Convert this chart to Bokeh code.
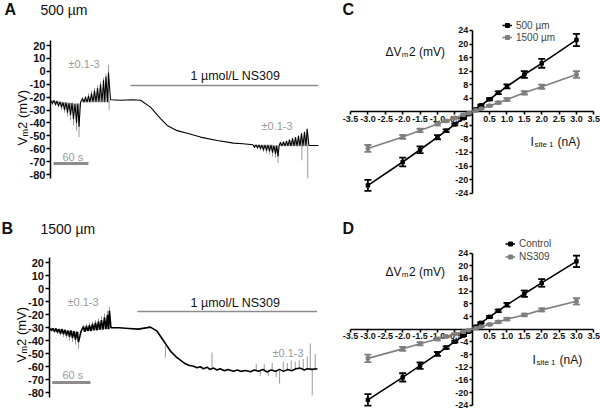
import math
from bokeh.plotting import figure
from bokeh.models import (Range1d, LinearAxis, FixedTicker, Label, Whisker, ColumnDataSource,
                          Legend, LegendItem, TeeHead, PrintfTickFormatter)
from bokeh.layouts import row, column
from bokeh.embed import file_html
from bokeh.resources import INLINE

FONT = "Liberation Sans"

# ---------------- data ----------------
# Panel A (500 um): membrane potential trace, time (s) / Vm2 (mV)
a_time = [0, 3.4, 6.0, 8.6, 11.1, 13.7, 16.3, 18.9, 21.4, 24.0, 26.6, 29.1, 31.7, 34.3, 36.9, 39.4, 42.0, 44.6, 46.8, 48.9, 51.4,
          54.9, 57.4, 60.0, 62.6, 65.1, 67.7, 70.3, 72.9, 75.4, 78.0, 80.6, 83.1, 85.7, 88.3, 90.9, 93.1, 95.1, 97.7, 99.4, 102.9,
          120, 140, 154.3, 171.4, 188.6, 200, 217.1, 234.3, 257.1, 285.7, 313.7, 330, 342.9, 347,
          349.7, 352.3, 354.9, 357.5, 360, 362.5, 365.1, 367.7, 370.3, 372.8, 375.4, 378, 380.6, 383.1, 385.7, 387.8, 390, 392,
          394.3, 396.8, 399.4, 402, 404.6, 407, 409.7, 412.3, 414.9, 417.5, 420, 422.6, 425.1, 427.7, 430.3, 432.8, 435.4, 438,
          440, 443, 450, 459.4]
a_vm = [-22.5, -25, -22.5, -26, -23, -27, -23.5, -28, -24, -30, -24, -32, -24.5, -34, -24.5, -37, -25, -40, -25, -43, -24,
        -21, -24, -20, -24, -19, -24, -17, -24, -15, -24, -13, -24, -10, -24, -7, -24, -4, -24, -1, -22,
        -22.5, -22, -22.5, -27.8, -36.6, -42, -46, -48, -51, -53.6, -55.7, -56.2, -56.7, -57,
        -59, -57, -59.5, -57, -60, -57, -61, -57, -61.5, -57, -62, -57, -63, -57.5, -64, -57.5, -66, -57.5,
        -55, -58, -54.5, -58, -54, -58, -53, -58, -52, -58, -51, -58, -50, -58, -48, -58, -47, -58,
        -45, -57.5, -57.5, -57.5]
a_spike_time = [3.4, 8.6, 13.7, 18.9, 24.0, 29.1, 34.3, 39.4, 44.6, 48.9,
                54.9, 60.0, 65.1, 70.3, 75.4, 80.6, 85.7, 90.9, 95.1, 99.4, 100.5,
                349.7, 354.9, 360, 365.1, 370.3, 375.4, 380.6, 385.7, 390,
                394.3, 399.4, 404.6, 409.7, 414.9, 420, 425.1, 430.3, 431, 435.4, 440, 441]
a_spike_base = [-22.5, -23, -23.5, -24, -24, -24.5, -24.5, -25, -25, -25,
                -24, -24, -24, -24, -24, -24, -24, -24, -24, -24, -22,
                -57, -57, -57, -57, -57, -57, -57, -57.5, -57.5,
                -58, -58, -58, -58, -58, -58, -58, -58, -58, -58, -57.5, -57.5]
a_spike_peak = [-26, -27, -28, -30, -32, -35, -38, -42, -46, -51,
                -20, -19, -17, -15, -13, -11, -8, -5, -2, 5, -30,
                -59.5, -60.5, -61.5, -62.5, -63.5, -64.5, -66, -67, -71,
                -55, -54.5, -54, -53, -52, -51, -50, -48, -69, -47, -44, -83]
a_bar_time = [5, 65]          # 60 s scale bar
a_bar_vm = [-71.5, -71.5]
a_drug_time = [137, 459]      # 1 umol/L NS309 application
a_drug_vm = [-11, -11]

# Panel B (1500 um)
b_time = [0, 3.9, 6.2, 8.6, 11.0, 13.3, 15.6, 18.0, 20.3, 22.7, 25.0, 27.4, 29.7, 32.1, 34.4, 36.8, 39.1, 41.5, 43.8, 46.2, 50.0,
          54.0, 56.3, 58.7, 61.0, 63.4, 65.7, 68.1, 70.4, 72.8, 75.1, 77.5, 79.8, 82.2, 84.5, 86.9, 89.2, 91.6, 93.1, 94.7, 97.0,
          110, 125, 140, 158.8, 169.3, 179.7, 190.2, 200.6, 213.6,
          220, 226.6, 232, 237, 242, 247.6, 252, 258, 263.2, 268, 275, 280, 289.2, 295, 300, 308, 315.3, 322, 328, 335,
          341.5, 348, 355, 361, 367.5, 374, 380, 387, 393.7, 400, 405, 412, 420.5]
b_vm = [-30, -32, -30.5, -33, -30.5, -33.5, -31, -34.5, -31, -35, -31.5, -36, -32, -37, -32, -38, -32.5, -39, -33, -41, -33,
        -29, -33, -28.5, -32.5, -28, -32.5, -27, -32, -26, -32, -25, -31.5, -24, -31.5, -22, -31, -20, -31, -17, -30,
        -30, -30.5, -31, -29.5, -32.6, -40.2, -47.9, -53, -57.7,
        -59, -59.6, -60.8, -60, -61.5, -60.3, -62, -61, -62.5, -61.5, -63, -62, -63.5, -62.5, -63.5, -62.8, -63.8, -62.5, -63.5, -62,
        -64, -62.5, -63.5, -62, -63.5, -62, -63, -61.5, -61, -62.5, -61.5, -62, -61.5]
b_spike_time = [3.9, 8.6, 13.3, 18.0, 22.7, 27.4, 32.1, 36.8, 41.5, 46.2,
                54.0, 58.7, 63.4, 68.1, 72.8, 77.5, 82.2, 86.9, 91.6, 94.7,
                182.3, 255.4,
                324.7, 330.9, 337.2, 343.4, 349.7, 356.0, 361.2, 367.0, 373.3, 379.5, 385.8, 392.0, 398.3, 404.6,
                409.3, 412.4, 417.1]
b_spike_base = [-30, -30.5, -31, -31, -31.5, -32, -32, -32.5, -33, -33,
                -33, -32.5, -32.5, -32, -32, -31.5, -31.5, -31, -31, -31,
                -44, -61,
                -63, -63, -63, -62.5, -63, -63, -63, -63, -63, -62, -62, -61, -62, -62,
                -62, -62, -62]
b_spike_peak = [-33, -34, -35, -36, -37, -38, -40, -41, -43, -46,
                -28, -27, -26, -25, -24, -23, -21, -19, -17, -14,
                -53, -49,
                -58, -67, -58, -67, -57, -68, -73, -56, -57, -55, -56, -55, -54, -52,
                -42, -82, -50]
b_bar_time = [5, 65]
b_bar_vm = [-72, -72]
b_drug_time = [138.5, 420]
b_drug_vm = [-17.5, -17.5]

trace_ticks = [20, 10, 0, -10, -20, -30, -40, -50, -60, -70, -80]

# Panels C and D: I-V relations, Isite1 (nA) vs dVm2 (mV), mean +/- SEM
iv_current = [-3, -2, -1.5, -1, -0.75, -0.5, -0.25, -0.1, 0.1, 0.25, 0.5, 0.75, 1, 1.5, 2, 3]
c_500 = [-21.7, -14.8, -11.2, -7.5, -5.6, -3.7, -1.9, -0.7, 0.7, 1.9, 3.7, 5.6, 7.5, 11.0, 14.3, 21.2]
c_500_err = [1.6, 1.3, 1.0, 0.6, 0.4, 0.3, 0.2, 0.1, 0.1, 0.2, 0.3, 0.4, 0.6, 1.0, 1.3, 1.8]
c_1500 = [-10.8, -7.4, -5.5, -3.6, -2.7, -1.8, -0.9, -0.4, 0.4, 0.9, 1.8, 2.7, 3.6, 5.6, 7.4, 11.0]
c_1500_err = [1.0, 0.6, 0.5, 0.4, 0.3, 0.2, 0.1, 0.1, 0.1, 0.1, 0.2, 0.3, 0.4, 0.5, 0.6, 1.0]
d_control = [-22.3, -15.2, -11.5, -7.8, -5.8, -3.9, -2.0, -0.8, 0.8, 2.0, 3.9, 5.8, 7.7, 11.2, 14.6, 21.4]
d_control_err = [1.8, 1.3, 1.0, 0.6, 0.4, 0.3, 0.2, 0.1, 0.1, 0.2, 0.3, 0.4, 0.6, 1.0, 1.2, 1.8]
d_ns309 = [-9.2, -6.2, -4.6, -3.1, -2.3, -1.5, -0.8, -0.3, 0.3, 0.8, 1.5, 2.3, 3.2, 4.5, 6.1, 8.8]
d_ns309_err = [1.2, 0.6, 0.5, 0.4, 0.3, 0.2, 0.1, 0.1, 0.1, 0.1, 0.2, 0.3, 0.4, 0.4, 0.5, 1.0]
iv_xticks = [-3.5, -3.0, -2.5, -2.0, -1.5, -1.0, -0.5, 0.5, 1.0, 1.5, 2.0, 2.5, 3.0, 3.5]
iv_yticks = [-24, -20, -16, -12, -8, -4, 4, 8, 12, 16, 20, 24]

# ---------------- layout helpers ----------------
W_LEFT, W_RIGHT, H_ROW = 325, 275, 206
X_SPLIT = W_LEFT
Y_SPLIT = H_ROW

fxA = lambda X: (X - 50) / (35 / 60)
fyA = lambda Y: 20 - (Y - 45) / 1.29
fxB = lambda X: (X - 48.5) / (38.3 / 60)
fyB = lambda Y: 20 - (Y - 262.3) / 1.3
fxC = lambda X: (X - 471.7) / 34.76
fyC = lambda Y: (111.3 - Y) / 3.39
fxD = fxC
fyD = lambda Y: (328.7 - Y) / 3.17

GRAY = "#8c8c8c"
LIGHT = "#9a9a9a"


def make_fig(width, fx, fy, rx0, rx1, ry0, ry1):
    p = figure(width=width, height=H_ROW,
               x_range=Range1d(fx(rx0), fx(rx1)), y_range=Range1d(fy(ry1), fy(ry0)),
               x_axis_type=None, y_axis_type=None, toolbar_location=None,
               output_backend="svg", min_border=0)
    p.outline_line_color = None
    p.background_fill_color = "white"
    p.border_fill_color = "white"
    return p


def put(p, fx, fy, X, Y, text, size, color="#111111", style="normal", align="left",
        baseline="middle", angle=0.0):
    p.add_layout(Label(x=fx(X), y=fy(Y), text=text, text_font=FONT, text_font_size=f"{size}px",
                       text_color=color, text_font_style=style, text_align=align,
                       text_baseline=baseline, angle=angle))


def rich_h(p, fx, fy, X, Yb, parts):
    for text, size, dx, dy in parts:
        put(p, fx, fy, X + dx, Yb + dy, text, size, baseline="alphabetic")


def rich_v(p, fx, fy, Xb, Yb, parts):
    for text, size, dx, dy in parts:
        put(p, fx, fy, Xb + dy, Yb - dx, text, size, baseline="alphabetic", angle=math.pi / 2)


def style_axis(ax, size, tick_out, standoff, lw):
    ax.axis_line_width = lw
    ax.axis_line_color = "black"
    ax.major_tick_out = tick_out
    ax.major_tick_in = 0
    ax.major_tick_line_width = lw
    ax.minor_tick_line_color = None
    ax.major_label_text_font = FONT
    ax.major_label_text_font_size = f"{size}px"
    ax.major_label_text_font_style = "bold"
    ax.major_label_text_color = "#111111"
    ax.major_label_standoff = standoff


def trace_panel(fx, fy, ry0, ry1, t, v, st, sb, sp, bt, bv, dt, dv, lw, bounds):
    p = make_fig(W_LEFT, fx, fy, 0, X_SPLIT, ry0, ry1)
    ax = LinearAxis(fixed_location=0, bounds=bounds, ticker=FixedTicker(ticks=trace_ticks),
                    formatter=PrintfTickFormatter(format="%d"))
    style_axis(ax, 11, 4, 1, 1.5)
    p.add_layout(ax, "left")
    p.segment(x0=st, y0=sb, x1=st, y1=sp, line_color="#808080", line_width=0.8)
    p.line(t, v, line_color="black", line_width=lw)
    p.line(bt, bv, line_color=GRAY, line_width=3)
    p.line(dt, dv, line_color=GRAY, line_width=1.4)
    return p


def iv_panel(fx, fy, ry0, ry1, series, leg_loc, row_h):
    p = make_fig(W_RIGHT, fx, fy, X_SPLIT, 600, ry0, ry1)
    xax = LinearAxis(fixed_location=0, bounds=(-3.5, 3.5), ticker=FixedTicker(ticks=iv_xticks),
                     formatter=PrintfTickFormatter(format="%.1f"))
    yax = LinearAxis(fixed_location=0, bounds=(-24, 24), ticker=FixedTicker(ticks=iv_yticks),
                     formatter=PrintfTickFormatter(format="%d"))
    for ax in (xax, yax):
        style_axis(ax, 9, 3, 1, 1.6)
        ax.level = "underlay"
    p.add_layout(xax, "below")
    p.add_layout(yax, "left")
    items = []
    for name, y, e, color in series:
        src = ColumnDataSource(dict(x=iv_current, y=y,
                                    lo=[a - b for a, b in zip(y, e)],
                                    hi=[a + b for a, b in zip(y, e)]))
        p.add_layout(Whisker(source=src, base="x", upper="hi", lower="lo", line_color=color, line_width=1.8,
                             upper_head=TeeHead(size=7, line_color=color, line_width=1.8),
                             lower_head=TeeHead(size=7, line_color=color, line_width=1.8)))
        r1 = p.line("x", "y", source=src, line_color=color, line_width=1.6)
        r2 = p.scatter("x", "y", source=src, marker="square", size=3.5, color=color)
        items.append(LegendItem(label=name, renderers=[r1, r2]))
    leg = Legend(items=items, location=leg_loc, orientation="vertical", padding=0, margin=0, spacing=0,
                 border_line_color=None, background_fill_alpha=0, label_text_font=FONT,
                 label_text_font_size="10px", glyph_width=10, glyph_height=row_h, label_height=row_h,
                 label_standoff=4)
    p.add_layout(leg)
    return p


VLABEL = [("V", 13, 0, 0), ("m", 9, 8.9, 2.8), ("2 (mV)", 13, 16.6, 0)]
DLABEL = [("ΔV", 12, 0, 0), ("m", 8, 16.2, 2.6), ("2 (mV)", 12, 23.4, 0)]
ILABEL = [("I", 12, 0, 0), ("site 1", 8, 3.9, 2.6), ("(nA)", 12, 27, 0)]

# ---------------- panel A ----------------
pA = trace_panel(fxA, fyA, 0, Y_SPLIT, a_time, a_vm, a_spike_time, a_spike_base, a_spike_peak,
                 a_bar_time, a_bar_vm, a_drug_time, a_drug_vm, 1.1, (-83, 24))
put(pA, fxA, fyA, 4, 9, "A", 16, style="bold")
put(pA, fxA, fyA, 40, 9, "500 µm", 14)
rich_v(pA, fxA, fyA, 22, 145, VLABEL)
put(pA, fxA, fyA, 68, 63, "±0.1-3", 11, color=LIGHT)
put(pA, fxA, fyA, 261, 125, "±0.1-3", 11, color=LIGHT)
put(pA, fxA, fyA, 190, 75, "1 µmol/L NS309", 12.5)
put(pA, fxA, fyA, 62, 156, "60 s", 11, color=LIGHT)

# ---------------- panel B ----------------
pB = trace_panel(fxB, fyB, Y_SPLIT, 412, b_time, b_vm, b_spike_time, b_spike_base, b_spike_peak,
                 b_bar_time, b_bar_vm, b_drug_time, b_drug_vm, 1.6, (-83.5, 24))
put(pB, fxB, fyB, 1, 228, "B", 16, style="bold")
put(pB, fxB, fyB, 40, 228, "1500 µm", 14)
rich_v(pB, fxB, fyB, 21, 362, VLABEL)
put(pB, fxB, fyB, 67, 301, "±0.1-3", 11, color=LIGHT)
put(pB, fxB, fyB, 272, 352, "±0.1-3", 11, color=LIGHT)
put(pB, fxB, fyB, 190, 302, "1 µmol/L NS309", 12.5)
put(pB, fxB, fyB, 62, 374, "60 s", 11, color=LIGHT)

# ---------------- panel C ----------------
pC = iv_panel(fxC, fyC, 0, Y_SPLIT,
              [("500 µm", c_500, c_500_err, "black"), ("1500 µm", c_1500, c_1500_err, "#7f7f7f")],
              (177, 163), 12)
put(pC, fxC, fyC, 342, 9, "C", 16, style="bold")
rich_h(pC, fxC, fyC, 385, 51.5, DLABEL)
rich_h(pC, fxC, fyC, 530, 141.5, ILABEL)

# ---------------- panel D ----------------
pD = iv_panel(fxD, fyD, Y_SPLIT, 412,
              [("Control", d_control, d_control_err, "black"), ("NS309", d_ns309, d_ns309_err, "#7f7f7f")],
              (180, 149), 13)
put(pD, fxD, fyD, 342, 228, "D", 16, style="bold")
rich_h(pD, fxD, fyD, 385, 271.5, DLABEL)
rich_h(pD, fxD, fyD, 532, 359.5, ILABEL)

layout = column(row(pA, pC), row(pB, pD))
open("out.html", "w").write(file_html(layout, INLINE))
